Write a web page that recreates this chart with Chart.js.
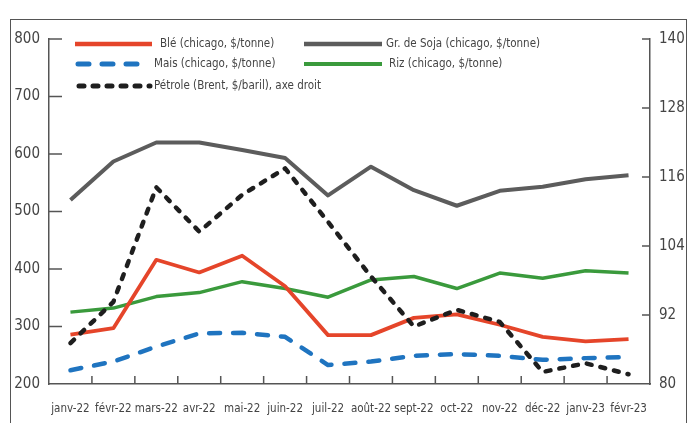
<!DOCTYPE html>
<html>
<head>
<meta charset="utf-8">
<script src="https://cdn.jsdelivr.net/npm/chart.js@4"></script>
<style>
  html, body { margin: 0; padding: 0; background: #fff; }
  #wrap { position: relative; width: 694px; height: 423px; overflow: hidden; }
  #frame { position: absolute; left: 10px; top: 19px; width: 675px; height: 430px; border: 1.5px solid #555; }
  canvas { position: absolute; left: 0; top: 0; }
</style>
</head>
<body>
<div id="wrap">
  <div id="frame"></div>
  <canvas id="chart" width="694" height="423"></canvas>
</div>
<script>
const months = ['janv-22','févr-22','mars-22','avr-22','mai-22','juin-22','juil-22','août-22','sept-22','oct-22','nov-22','déc-22','janv-23','févr-23'];

const ble   = [286, 297, 416, 394, 423, 370, 285, 285, 315, 321, 303, 282, 274, 278];
const soja  = [520, 587, 620, 620, 607, 593, 528, 578, 537, 510, 536, 543, 556, 563];
const mais  = [224, 239, 265, 288, 289, 282, 233, 239, 249, 252, 249, 242, 245, 247];
const riz   = [325, 332, 352, 359, 378, 366, 351, 381, 387, 366, 393, 384, 397, 393];
const brent = [87.1, 94.3, 114.2, 106.5, 112.9, 117.5, 108.2, 98.7, 90.0, 92.9, 90.8, 82.1, 83.6, 81.7];

const leftTicks  = [200, 300, 400, 500, 600, 700, 800];
const rightTicks = [80, 92, 104, 116, 128, 140];

const FONT = '"Liberation Sans Narrow", "DejaVu Sans Condensed", sans-serif';
const TEXT = '#444';
const AXIS = '#555';

const datasets = [
  { key: 'brent', label: 'Pétrole (Brent, $/baril), axe droit', data: brent, yAxisID: 'y2',
    borderColor: '#1e1e1e', borderDash: [5, 9], borderCapStyle: 'round', borderWidth: 4.5 },
  { key: 'ble', label: 'Blé (chicago, $/tonne)', data: ble, yAxisID: 'y',
    borderColor: '#e5452a', borderWidth: 3.8 },
  { key: 'mais', label: 'Mais (chicago, $/tonne)', data: mais, yAxisID: 'y',
    borderColor: '#1f74c0', borderDash: [11, 13], borderCapStyle: 'round', borderWidth: 4.5 },
  { key: 'riz', label: 'Riz (chicago, $/tonne)', data: riz, yAxisID: 'y',
    borderColor: '#3a9a3c', borderWidth: 3.5 },
  { key: 'soja', label: 'Gr. de Soja (chicago, $/tonne)', data: soja, yAxisID: 'y',
    borderColor: '#5c5c5c', borderWidth: 4 },
].map(d => Object.assign({ pointRadius: 0, fill: false, tension: 0, borderJoinStyle: 'round' }, d));

// legend slots: [dataset key, line x0, line x1, text x, y]
const legendSlots = [
  ['ble',   75, 152, 160, 44],
  ['soja', 304, 382, 386, 44],
  ['mais',  78, 150, 154, 64],
  ['riz',  304, 382, 389, 64],
  ['brent', 79, 150, 154, 86],
];

const legendPlugin = {
  id: 'fixedLegend',
  afterDraw(chart) {
    const ctx = chart.ctx;
    ctx.save();
    legendSlots.forEach(([key, x0, x1, tx, y]) => {
      const ds = chart.data.datasets.find(d => d.key === key);
      ctx.beginPath();
      ctx.strokeStyle = ds.borderColor;
      ctx.lineWidth = ds.borderWidth + 0.5;
      ctx.lineCap = ds.borderCapStyle || 'butt';
      ctx.setLineDash(ds.borderDash || []);
      ctx.moveTo(x0, y);
      ctx.lineTo(x1, y);
      ctx.stroke();
      ctx.setLineDash([]);
      ctx.fillStyle = TEXT;
      ctx.font = '11.5px ' + FONT;
      ctx.textBaseline = 'middle';
      ctx.textAlign = 'left';
      ctx.fillText(ds.label, tx, y);
    });
    ctx.restore();
  }
};

// short tick marks pointing into the plot area
const innerTicks = {
  id: 'innerTicks',
  afterDraw(chart) {
    const ctx = chart.ctx;
    const { left, right, bottom } = chart.chartArea;
    const x = chart.scales.x, y = chart.scales.y, y2 = chart.scales.y2;
    ctx.save();
    ctx.strokeStyle = AXIS;
    ctx.lineWidth = 1.5;
    ctx.beginPath();
    leftTicks.forEach(v => {
      if (v === 200) return;
      const py = y.getPixelForValue(v);
      ctx.moveTo(left, py); ctx.lineTo(left + 13, py);
    });
    rightTicks.forEach(v => {
      if (v === 80) return;
      const py = y2.getPixelForValue(v);
      ctx.moveTo(right, py); ctx.lineTo(right - 8, py);
    });
    for (let i = 1; i < months.length; i++) {
      const px = (x.getPixelForValue(i - 1) + x.getPixelForValue(i)) / 2;
      ctx.moveTo(px, bottom); ctx.lineTo(px, bottom - 8);
    }
    ctx.stroke();
    ctx.restore();
  }
};

new Chart(document.getElementById('chart'), {
  type: 'line',
  data: { labels: months, datasets },
  options: {
    responsive: false,
    animation: false,
    layout: { padding: { top: 39, left: 0, right: 0, bottom: 0 } },
    plugins: { legend: { display: false }, tooltip: { enabled: false } },
    scales: {
      x: {
        offset: true,
        grid: { display: false, drawTicks: false },
        border: { display: true, color: AXIS, width: 1.5 },
        ticks: { color: TEXT, font: { family: FONT, size: 11.5 }, padding: 18, maxRotation: 0, autoSkip: false },
        afterFit: s => { s.height = 423 - 384; }
      },
      y: {
        position: 'left',
        min: 200, max: 800,
        afterBuildTicks: s => { s.ticks = leftTicks.map(v => ({ value: v })); },
        grid: { display: false, drawTicks: false },
        border: { display: true, color: AXIS, width: 1.5 },
        ticks: { color: TEXT, font: { family: FONT, size: 15 }, padding: 9 },
        afterFit: s => { s.width = 49; }
      },
      y2: {
        position: 'right',
        min: 80, max: 140,
        afterBuildTicks: s => { s.ticks = rightTicks.map(v => ({ value: v })); },
        grid: { display: false, drawTicks: false },
        border: { display: true, color: AXIS, width: 1.5 },
        ticks: { color: TEXT, font: { family: FONT, size: 15 }, padding: 9 },
        afterFit: s => { s.width = 694 - 650; }
      }
    }
  },
  plugins: [innerTicks, legendPlugin]
});
</script>
</body>
</html>
